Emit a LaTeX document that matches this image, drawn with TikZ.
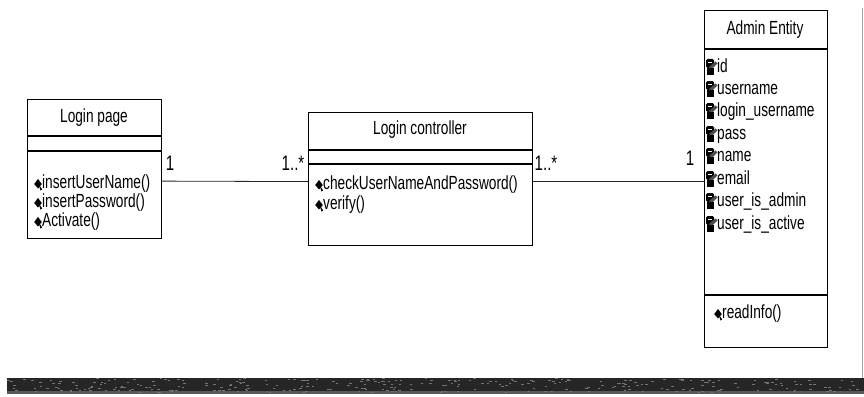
\documentclass[tikz,border=0pt]{standalone}
\usepackage{fontspec}
\setmainfont[FakeStretch=0.72]{Liberation Sans}
\begin{document}
\begin{tikzpicture}[x=1pt,y=-1pt,
  box/.style={draw=black, line width=1.2pt, inner sep=0, fill=white, anchor=north west},
  sep/.style={line width=1.2pt},
  txt/.style={inner sep=0, anchor=west, font=\fontsize{19}{21}\selectfont, text height=12pt, text depth=3pt},
  ttl/.style={inner sep=0, font=\fontsize{19}{21}\selectfont, text height=12pt, text depth=3pt},
  mult/.style={inner sep=0, font=\fontsize{21}{23}\selectfont},
  assoc/.style={line width=0.8pt, draw=black!85},
  meth/.pic={\fill[black] (0,-5) -- (3.8,0) -- (0,4.5) -- (-3.8,0) -- cycle;
             \fill[black] (0.5,0) -- (4.2,5.5) -- (2.5,6.5) -- cycle;},
  attr/.pic={\fill[black, rounded corners=1.5pt] (-5,-9) rectangle (3,0);
             \fill[black!70] (-2,-1) -- (4.5,-6.5) -- (6.5,-4.5) -- (0,1.5) -- cycle;
             \fill[black] (-4.5,0) rectangle (2.5,7);
             \fill[white] (-3.5,-6) rectangle (1,-5.2);}
]
\useasboundingbox (0,0) rectangle (864,396);
\fill[white] (0,0) rectangle (864,396);

% scan border artefacts
\draw[black!35, line width=0.8pt] (862,8) -- (862,378);
\fill[black!85] (7,378) rectangle (864,394);
\fill[black!65] (7,391) rectangle (864,394);
\pgfmathsetseed{7}
\foreach \i in {1,...,300}{
  \pgfmathsetmacro\xx{7+855*rnd}
  \pgfmathsetmacro\yy{378+14*rnd}
  \fill[black!55] (\xx,\yy) rectangle ++(2.5,1);
}

% Login page
\node[box, minimum width=134pt, minimum height=139pt] (lp) at (27,99) {};
\draw[sep] (27,136) -- (161,136);
\draw[sep] (27,151) -- (161,151);
\node[ttl] (lpt) at (94,118) {Login page};
\pic at (38,184) {meth};
\node[txt] (lp1) at (42,184) {insertUserName()};
\pic at (38,203) {meth};
\node[txt] (lp2) at (42,203) {insertPassword()};
\pic at (38,222) {meth};
\node[txt] (lp3) at (42,222) {Activate()};

% Login controller
\node[box, minimum width=224pt, minimum height=133pt] (lc) at (308,112) {};
\draw[sep] (308,150) -- (532,150);
\draw[sep] (308,164) -- (532,164);
\node[ttl] (lct) at (420,130) {Login controller};
\pic at (319,185) {meth};
\node[txt] (lc1) at (323,185) {checkUserNameAndPassword()};
\pic at (319,205) {meth};
\node[txt] (lc2) at (323,205) {verify()};

% Admin Entity
\node[box, minimum width=123pt, minimum height=337pt] (ae) at (704,10) {};
\draw[sep] (704,49) -- (827,49);
\draw[sep] (704,295) -- (827,295);
\node[ttl] (aet) at (765,30) {Admin Entity};
\pic at (711,68) {attr};
\node[txt] (a1) at (717,68) {id};
\pic at (711,90) {attr};
\node[txt] (a2) at (717,90) {username};
\pic at (711,112) {attr};
\node[txt] (a3) at (717,112) {login\_username};
\pic at (711,135) {attr};
\node[txt] (a4) at (717,135) {pass};
\pic at (711,157) {attr};
\node[txt] (a5) at (717,157) {name};
\pic at (711,180) {attr};
\node[txt] (a6) at (717,180) {email};
\pic at (711,202) {attr};
\node[txt] (a7) at (717,202) {user\_is\_admin};
\pic at (711,225) {attr};
\node[txt] (a8) at (717,225) {user\_is\_active};
\pic at (718,314) {meth};
\node[txt] (am1) at (722,314) {readInfo()};

% associations
\draw[assoc] ([yshift=-12pt]lp.east) -- ([yshift=-2.5pt]lc.west);
\draw[assoc] ([yshift=-2.5pt]lc.east) -- ([yshift=-2.5pt]ae.west);

% multiplicities
\node[mult] (m1) at (170,163) {1};
\node[mult] (m2) at (293,163) {1..*};
\node[mult] (m3) at (546,163) {1..*};
\node[mult] (m4) at (690,158) {1};
\end{tikzpicture}
\end{document}
